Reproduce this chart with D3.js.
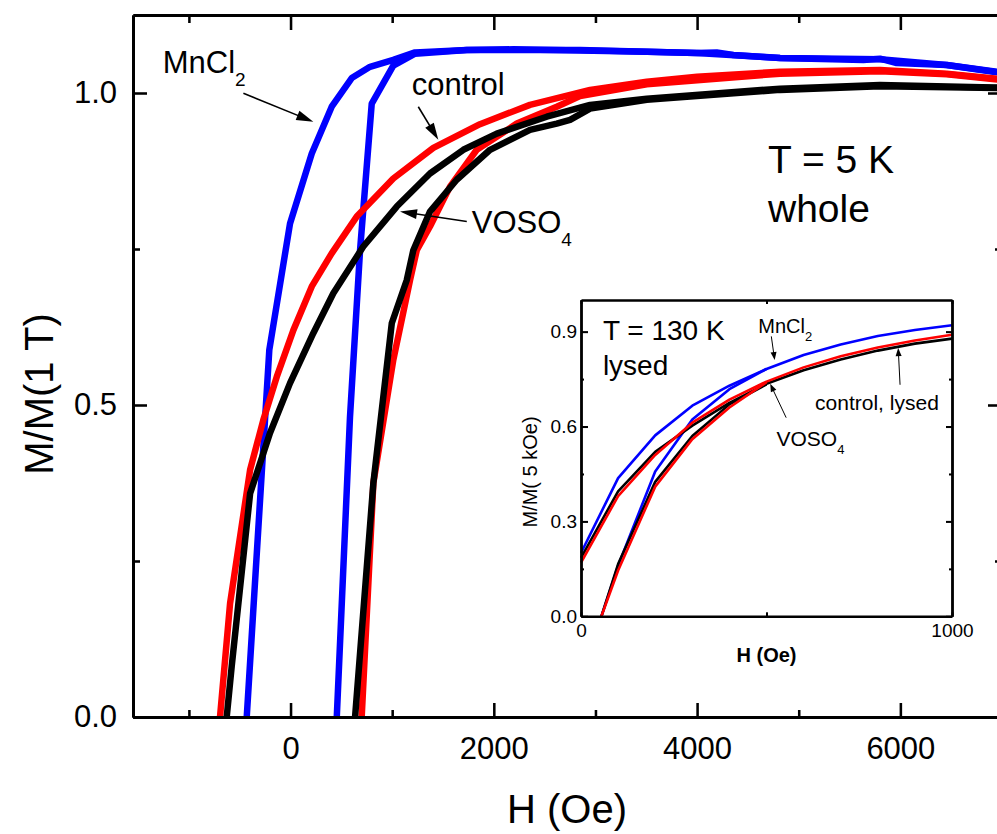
<!DOCTYPE html>
<html><head><meta charset="utf-8">
<script src="https://cdn.jsdelivr.net/npm/d3@7"></script>
<style>
body{margin:0;background:#fff}
svg{display:block;font-family:"Liberation Sans",Arial,sans-serif}
</style>
</head><body>
<svg id="c" width="997" height="834"></svg>
<script>
// ---------------- main chart data (H in Oe, M/M(1 T)) ----------------
const mnDesc = [[-431,0],[-209,0.588],[-5,0.791],[209,0.903],[405,0.978],[602,1.024],[782,1.042],[1011,1.053],[1225,1.065],[1734,1.069],[2192,1.070],[2848,1.068],[3505,1.066],[3996,1.064],[4193,1.065],[4357,1.061],[4816,1.056],[5636,1.053],[5800,1.055],[5964,1.048],[6456,1.045],[6915,1.034],[7000,1.032]];
const mnAsc  = [[455,0],[585,0.481],[684,0.748],[799,0.983],[1011,1.044],[1225,1.063],[1734,1.069],[2848,1.069],[3996,1.064],[4816,1.056],[5800,1.054],[6456,1.045],[7000,1.033]];
const ctlDesc = [[-694,0],[-595,0.182],[-398,0.396],[-268,0.476],[-136,0.545],[28,0.620],[209,0.690],[405,0.743],[651,0.802],[1011,0.863],[1405,0.912],[1864,0.950],[2356,0.981],[2947,1.005],[3505,1.018],[4000,1.026],[4816,1.034],[5800,1.037],[6456,1.031],[7000,1.022]];
const ctlAsc  = [[700,0],[815,0.375],[1011,0.572],[1176,0.700],[1242,0.748],[1372,0.786],[1569,0.850],[1832,0.909],[2226,0.951],[2619,0.978],[2848,0.995],[3505,1.014],[4816,1.031],[5800,1.035],[6456,1.030],[7000,1.021]];
const voDesc = [[-628,0],[-579,0.081],[-398,0.358],[-202,0.455],[-5,0.535],[224,0.615],[421,0.679],[716,0.754],[1045,0.818],[1372,0.871],[1700,0.909],[2029,0.935],[2521,0.962],[2947,0.981],[3505,0.991],[4816,1.007],[5800,1.013],[6915,1.009],[7000,1.009]];
const voAsc  = [[635,0],[815,0.375],[996,0.631],[1143,0.700],[1208,0.748],[1372,0.810],[1635,0.861],[1963,0.909],[2356,0.941],[2619,0.951],[2750,0.957],[2947,0.975],[3505,0.989],[4816,1.005],[5800,1.011],[7000,1.008]];

const mainXMajor = [0,2000,4000,6000];
const mainXMinor = [-1000,1000,3000,5000,7000];
const mainYMajor = [0,0.5,1.0];
const mainYMinor = [0.25,0.75];

// ---------------- inset data (H in Oe, M/M(5 kOe)) ----------------
const inH = [0,100,200,300,400,500,600,700,800,900,1000];
const inMnUp  = [0.20,0.437,0.572,0.666,0.729,0.782,0.826,0.859,0.886,0.905,0.920];
const inCtlUp = [0.17,0.380,0.510,0.612,0.685,0.742,0.787,0.822,0.850,0.872,0.890];
const inVoUp  = [0.185,0.395,0.520,0.603,0.675,0.735,0.778,0.812,0.840,0.862,0.878];
const inLowH   = [55,100,200,300,400,500];
const inMnLow  = [0,0.16,0.458,0.622,0.718,0.782];
const inCtlLow = [0,0.145,0.41,0.56,0.66,0.740];
const inVoLow  = [0,0.165,0.425,0.57,0.67,0.733];
const inXTicks = [0,500,1000];
const inYMajor = [0,0.3,0.6,0.9];
const inYMinor = [0.15,0.45,0.75];

const svg = d3.select("#c");
const FONT = '"Liberation Sans",Arial,sans-serif';

// ---------------- main scales ----------------
const x = d3.scaleLinear().domain([-1550,7000]).range([133,1002]);
const y = d3.scaleLinear().domain([0,1.125]).range([717,15]);

svg.append("defs").append("clipPath").attr("id","mainclip")
  .append("rect").attr("x",133).attr("y",15).attr("width",869).attr("height",702);

const line = d3.line().x(d=>x(d[0])).y(d=>y(d[1]));
const curves = svg.append("g").attr("clip-path","url(#mainclip)");
const mainSeries = [
  [mnDesc,"#0000ff"],[mnAsc,"#0000ff"],
  [ctlDesc,"#ff0000"],[ctlAsc,"#ff0000"],
  [voDesc,"#000000"],[voAsc,"#000000"]
];
mainSeries.forEach(([d,c])=>{
  curves.append("path").datum(d).attr("d",line)
    .attr("fill","none").attr("stroke",c).attr("stroke-width",6.5)
    .attr("stroke-linejoin","round");
});

function styleAxis(g, sw, fs){
  g.attr("font-family",FONT).attr("font-size",fs);
  g.select(".domain").attr("stroke","#000").attr("stroke-width",sw);
  g.selectAll(".tick line").attr("stroke","#000").attr("stroke-width",sw*0.85);
  g.selectAll(".tick text").attr("fill","#000");
}
// bottom
let g;
g = svg.append("g").attr("transform","translate(0,717)")
  .call(d3.axisBottom(x).tickValues(mainXMajor).tickSizeInner(-14).tickSizeOuter(0).tickPadding(20).tickFormat(d3.format("d")));
styleAxis(g,3,31);
g = svg.append("g").attr("transform","translate(0,717)")
  .call(d3.axisBottom(x).tickValues(mainXMinor).tickSizeInner(-7).tickSizeOuter(0).tickFormat(""));
styleAxis(g,3,31);
// top
g = svg.append("g").attr("transform","translate(0,15)")
  .call(d3.axisTop(x).tickValues(mainXMajor).tickSizeInner(-15).tickSizeOuter(0).tickFormat(""));
styleAxis(g,3,31);
g = svg.append("g").attr("transform","translate(0,15)")
  .call(d3.axisTop(x).tickValues(mainXMinor).tickSizeInner(-8).tickSizeOuter(0).tickFormat(""));
styleAxis(g,3,31);
// left
g = svg.append("g").attr("transform","translate(133,0)")
  .call(d3.axisLeft(y).tickValues(mainYMajor).tickSizeInner(-14).tickSizeOuter(0).tickPadding(16).tickFormat(d3.format(".1f")));
styleAxis(g,3,31);
g = svg.append("g").attr("transform","translate(133,0)")
  .call(d3.axisLeft(y).tickValues(mainYMinor).tickSizeInner(-7).tickSizeOuter(0).tickFormat(""));
styleAxis(g,3,31);
// right
g = svg.append("g").attr("transform","translate(1002,0)")
  .call(d3.axisRight(y).tickValues(mainYMajor).tickSizeInner(-14).tickSizeOuter(0).tickFormat(""));
styleAxis(g,3,31);
g = svg.append("g").attr("transform","translate(1002,0)")
  .call(d3.axisRight(y).tickValues(mainYMinor).tickSizeInner(-7).tickSizeOuter(0).tickFormat(""));
styleAxis(g,3,31);

// axis titles
svg.append("text").attr("x",567).attr("y",823).attr("text-anchor","middle")
  .attr("font-size",40).attr("font-family",FONT).text("H (Oe)");
svg.append("text").attr("transform","translate(53,394) rotate(-90)").attr("text-anchor","middle")
  .attr("font-size",40).attr("font-family",FONT).text("M/M(1 T)");

// arrows helper
function arrow(px1,py1,px2,py2,len,hw,sw){
  svg.append("line").attr("x1",px1).attr("y1",py1)
    .attr("x2",px2-(px2-px1)*len*0.6/Math.hypot(px2-px1,py2-py1))
    .attr("y2",py2-(py2-py1)*len*0.6/Math.hypot(px2-px1,py2-py1))
    .attr("stroke","#000").attr("stroke-width",sw);
  const a=Math.atan2(py2-py1,px2-px1);
  const bx=px2-len*Math.cos(a), by=py2-len*Math.sin(a);
  const p=[[px2,py2],[bx+hw*Math.sin(a),by-hw*Math.cos(a)],[bx-hw*Math.sin(a),by+hw*Math.cos(a)]];
  svg.append("path").attr("d","M"+p.map(q=>q.join(",")).join("L")+"Z").attr("fill","#000");
}
function subText(px,py,main,sub,fs,sfs,dy){
  const t=svg.append("text").attr("x",px).attr("y",py).attr("font-size",fs).attr("font-family",FONT);
  t.append("tspan").text(main);
  t.append("tspan").attr("font-size",sfs).attr("dy",dy).text(sub);
  return t;
}

// main annotations (positions in data units)
subText(x(-1257),y(1.032),"MnCl","2",31,19,13);
arrow(x(-464),y(0.9995),x(224),y(0.954),17,5,1.6);
svg.append("text").attr("x",x(1192)).attr("y",y(0.997)).attr("font-size",31).attr("font-family",FONT).text("control");
arrow(x(1257),y(0.978),x(1454),y(0.925),17,5,1.6);
subText(x(1783),y(0.776),"VOSO","4",31,19,13);
arrow(x(1734),y(0.794),x(1077),y(0.810),17,5,1.6);
svg.append("text").attr("x",x(4698)).attr("y",y(0.871)).attr("font-size",39).attr("font-family",FONT).text("T = 5 K");
svg.append("text").attr("x",x(4698)).attr("y",y(0.794)).attr("font-size",39).attr("font-family",FONT).text("whole");

// ---------------- inset ----------------
const ix = d3.scaleLinear().domain([0,1000]).range([581,952]);
const iy = d3.scaleLinear().domain([0,1.0]).range([616.3,300]);
svg.append("rect").attr("x",581).attr("y",300).attr("width",371).attr("height",316.3).attr("fill","#fff");
const iline = d3.line().x(d=>ix(d[0])).y(d=>iy(d[1]));
const zipH = (hs,vs)=>hs.map((h,i)=>[h,vs[i]]);
const insetSeries = [
  [zipH(inH,inMnUp),"#0000ff"],[zipH(inLowH,inMnLow),"#0000ff"],
  [zipH(inH,inVoUp),"#000000"],[zipH(inLowH,inVoLow),"#000000"],
  [zipH(inH,inCtlUp),"#ff0000"],[zipH(inLowH,inCtlLow),"#ff0000"]
];
insetSeries.forEach(([d,c])=>{
  svg.append("path").datum(d).attr("d",iline).attr("fill","none")
    .attr("stroke",c).attr("stroke-width",2.6).attr("stroke-linejoin","round");
});
g = svg.append("g").attr("transform","translate(0,616.3)")
  .call(d3.axisBottom(ix).tickValues(inXTicks).tickSizeInner(-4).tickSizeOuter(0).tickPadding(7).tickFormat(d=>d===500?"":d));
styleAxis(g,2.4,19);
g = svg.append("g").attr("transform","translate(0,300)")
  .call(d3.axisTop(ix).tickValues(inXTicks).tickSizeInner(-4).tickSizeOuter(0).tickFormat(""));
styleAxis(g,2.4,19);
g = svg.append("g").attr("transform","translate(581,0)")
  .call(d3.axisLeft(iy).tickValues(inYMajor).tickSizeInner(-7).tickSizeOuter(0).tickPadding(4).tickFormat(d3.format(".1f")));
styleAxis(g,2.4,19);
g = svg.append("g").attr("transform","translate(581,0)")
  .call(d3.axisLeft(iy).tickValues(inYMinor).tickSizeInner(-3).tickSizeOuter(0).tickFormat(""));
styleAxis(g,2.4,19);
g = svg.append("g").attr("transform","translate(952,0)")
  .call(d3.axisRight(iy).tickValues(inYMajor).tickSizeInner(-6).tickSizeOuter(0).tickFormat(""));
styleAxis(g,2.4,19);
g = svg.append("g").attr("transform","translate(952,0)")
  .call(d3.axisRight(iy).tickValues(inYMinor).tickSizeInner(-3).tickSizeOuter(0).tickFormat(""));
styleAxis(g,2.4,19);

svg.append("text").attr("x",ix(500)).attr("y",661.5).attr("text-anchor","middle")
  .attr("font-size",20).attr("font-weight","bold").attr("font-family",FONT).text("H (Oe)");
svg.append("text").attr("transform","translate(537,472) rotate(-90)").attr("text-anchor","middle")
  .attr("font-size",20).attr("font-family",FONT).text("M/M( 5 kOe)");

svg.append("text").attr("x",ix(59)).attr("y",iy(0.873)).attr("font-size",28).attr("font-family",FONT).text("T = 130 K");
svg.append("text").attr("x",ix(59)).attr("y",iy(0.763)).attr("font-size",28).attr("font-family",FONT).text("lysed");
subText(ix(478),iy(0.896),"MnCl","2",20,13,8);
arrow(ix(513),iy(0.885),ix(522),iy(0.81),8,3,1);
svg.append("text").attr("x",ix(631)).attr("y",iy(0.651)).attr("font-size",21).attr("font-family",FONT).text("control, lysed");
arrow(ix(860),iy(0.732),ix(855),iy(0.848),8,3,1);
subText(ix(527),iy(0.537),"VOSO","4",21,13,8);
arrow(ix(553),iy(0.628),ix(510),iy(0.735),8,3,1);
</script>
</body></html>
